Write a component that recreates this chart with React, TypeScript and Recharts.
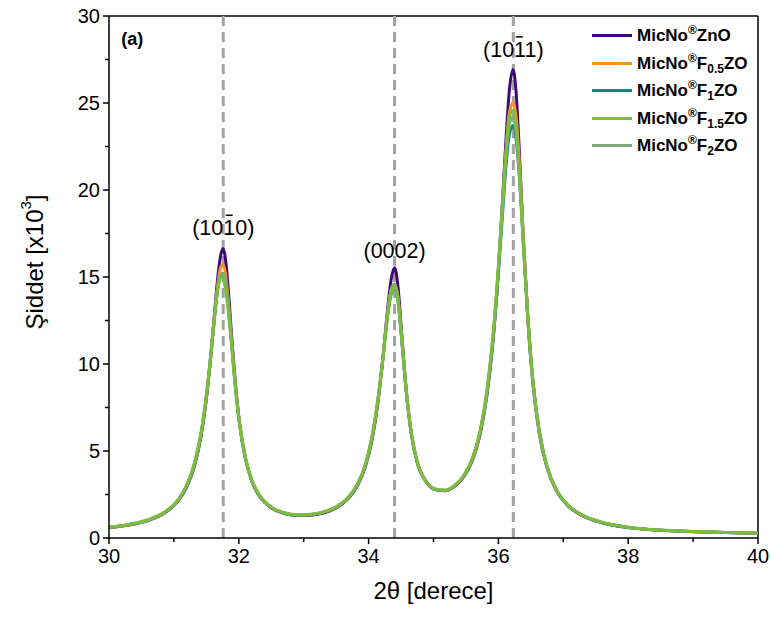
import React from 'react';
import { LineChart, Line, XAxis, YAxis, ReferenceLine, ReferenceDot, Legend } from 'recharts';

const FONT = 'Arial, "Liberation Sans", Helvetica, sans-serif';

// 2θ positions (degrees)
const twoTheta = [
  30.0, 30.3, 30.6, 30.85, 31.05, 31.2, 31.32, 31.42, 31.5, 31.57,
  31.63, 31.68, 31.72, 31.755, 31.79, 31.83, 31.88, 31.94, 32.01, 32.1,
  32.2, 32.33, 32.5, 32.7, 32.9, 33.1, 33.3, 33.5, 33.68, 33.83,
  33.95, 34.05, 34.14, 34.22, 34.29, 34.35, 34.4, 34.45, 34.51, 34.58,
  34.66, 34.76, 34.88, 35.02, 35.18, 35.33, 35.47, 35.6, 35.72, 35.82,
  35.91, 35.99, 36.06, 36.12, 36.17, 36.225, 36.27, 36.32, 36.38, 36.45,
  36.53, 36.63, 36.75, 36.9, 37.08, 37.3, 37.6, 38.0, 38.5, 39.0,
  39.5, 40.0,
];

// intensity x10^3
const zno = [
  0.59, 0.74, 1.0, 1.42, 2.06, 2.95, 4.18, 5.89, 8.0, 10.54,
  13.11, 15.12, 16.22, 16.64, 16.16, 14.65, 12.1, 9.2, 6.65, 4.6,
  3.28, 2.34, 1.73, 1.41, 1.29, 1.31, 1.44, 1.73, 2.24, 3.01,
  4.1, 5.58, 7.68, 10.32, 13.03, 14.92, 15.53, 14.55, 11.76, 8.51,
  5.97, 4.2, 3.26, 2.78, 2.71, 2.98, 3.54, 4.46, 6.0, 8.11,
  11.04, 14.84, 19.16, 23.12, 25.77, 26.92, 25.75, 22.42, 17.57, 12.75,
  8.94, 6.01, 4.03, 2.68, 1.82, 1.27, 0.88, 0.6, 0.44, 0.36,
  0.31, 0.28,
];
const f05 = [
  0.6, 0.75, 1.02, 1.44, 2.08, 3.0, 4.25, 5.95, 8.05, 10.5,
  12.9, 14.7, 15.55, 15.7, 15.3, 14.0, 11.8, 9.1, 6.7, 4.65,
  3.3, 2.37, 1.76, 1.44, 1.32, 1.34, 1.47, 1.76, 2.27, 3.05,
  4.15, 5.65, 7.75, 10.3, 12.8, 14.3, 14.6, 13.9, 11.5, 8.5,
  6.0, 4.25, 3.3, 2.82, 2.74, 3.0, 3.57, 4.5, 6.05, 8.2,
  11.2, 14.9, 18.9, 22.4, 24.5, 25.0, 24.3, 21.8, 17.6, 13.0,
  9.1, 6.1, 4.08, 2.72, 1.85, 1.29, 0.9, 0.62, 0.45, 0.37,
  0.31, 0.28,
];
const f1 = [
  0.6, 0.76, 1.02, 1.45, 2.09, 3.0, 4.3, 6.0, 8.1, 10.5,
  12.8, 14.4, 15.1, 15.2, 14.8, 13.6, 11.6, 9.0, 6.6, 4.6,
  3.3, 2.36, 1.75, 1.43, 1.32, 1.34, 1.47, 1.77, 2.28, 3.06,
  4.15, 5.7, 7.8, 10.3, 12.7, 14.05, 14.4, 13.7, 11.4, 8.4,
  5.95, 4.2, 3.28, 2.8, 2.73, 3.0, 3.58, 4.52, 6.1, 8.25,
  11.2, 14.7, 18.4, 21.5, 23.2, 23.7, 23.0, 20.9, 17.2, 12.9,
  9.1, 6.15, 4.1, 2.72, 1.85, 1.29, 0.89, 0.61, 0.45, 0.37,
  0.31, 0.28,
];
const f15 = [
  0.62, 0.78, 1.05, 1.48, 2.13, 3.05, 4.35, 6.1, 8.2, 10.6,
  12.9, 14.4, 15.0, 14.9, 14.4, 13.3, 11.4, 8.9, 6.6, 4.65,
  3.35, 2.4, 1.78, 1.45, 1.33, 1.36, 1.5, 1.8, 2.32, 3.12,
  4.25, 5.8, 7.9, 10.3, 12.7, 14.1, 14.45, 13.7, 11.4, 8.4,
  5.95, 4.2, 3.3, 2.82, 2.75, 3.03, 3.62, 4.6, 6.2, 8.4,
  11.4, 15.1, 19.0, 22.3, 24.2, 24.6, 23.6, 21.2, 17.2, 12.8,
  9.0, 6.1, 4.1, 2.73, 1.86, 1.3, 0.9, 0.62, 0.46, 0.38,
  0.32, 0.29,
];
const f2 = [
  0.61, 0.77, 1.03, 1.46, 2.1, 3.05, 4.3, 6.05, 8.15, 10.6,
  12.9, 14.5, 15.15, 15.2, 14.8, 13.6, 11.6, 9.0, 6.6, 4.6,
  3.3, 2.37, 1.76, 1.44, 1.32, 1.35, 1.48, 1.78, 2.3, 3.08,
  4.2, 5.75, 7.85, 10.35, 12.85, 14.3, 14.6, 13.85, 11.5, 8.45,
  5.95, 4.2, 3.29, 2.81, 2.74, 3.02, 3.6, 4.55, 6.15, 8.3,
  11.3, 14.95, 18.8, 22.0, 23.8, 24.2, 23.4, 21.2, 17.3, 12.9,
  9.05, 6.1, 4.08, 2.72, 1.85, 1.29, 0.9, 0.61, 0.45, 0.37,
  0.31, 0.28,
];

const seriesKeys = ['zno', 'f05', 'f1', 'f15', 'f2'];
const seriesColors = ['#3d0a78', '#f7931e', '#11877f', '#7cbc3e', '#82a982'];
// [main, subscript, tail] after "MicNo®"
const seriesNames = [
  ['ZnO', '', ''],
  ['F', '0.5', 'ZO'],
  ['F', '1', 'ZO'],
  ['F', '1.5', 'ZO'],
  ['F', '2', 'ZO'],
];
// bright green F1.5 ends up on top, as in the figure
const drawOrder = [0, 1, 2, 4, 3];

const xTicks = [30, 31, 32, 33, 34, 35, 36, 37, 38, 39, 40];
const yTicks = [0, 2.5, 5, 7.5, 10, 12.5, 15, 17.5, 20, 22.5, 25, 27.5, 30];

const peakPositions = [31.76, 34.4, 36.23];
const peakLabels = [
  { x: 31.76, y: 17.4, pre: '(10', bar: '1', post: '0)' },
  { x: 34.4, y: 16.1, pre: '(0002)', bar: '', post: '' },
  { x: 36.23, y: 27.65, pre: '(10', bar: '1', post: '1)' },
];

const data = twoTheta.map((x, i) => ({
  x,
  zno: zno[i],
  f05: f05[i],
  f1: f1[i],
  f15: f15[i],
  f2: f2[i],
}));

const XTick = ({ x, y, payload }: any) => {
  const major = payload.value % 2 === 0;
  return (
    <g>
      <line x1={x} x2={x} y1={y} y2={y + (major ? 6 : 4)} stroke="#000" strokeWidth={1.5} />
      {major && (
        <text x={x} y={y + 25} textAnchor="middle" fontSize={20} fontFamily={FONT} fill="#000">
          {payload.value}
        </text>
      )}
    </g>
  );
};

const YTick = ({ x, y, payload }: any) => {
  const major = payload.value % 5 === 0;
  return (
    <g>
      <line x1={x} x2={x - (major ? 6 : 4)} y1={y} y2={y} stroke="#000" strokeWidth={1.5} />
      {major && (
        <text x={x - 9} y={y + 7} textAnchor="end" fontSize={20} fontFamily={FONT} fill="#000">
          {payload.value}
        </text>
      )}
    </g>
  );
};

const XTitle = ({ viewBox }: any) => (
  <text
    x={viewBox.x + viewBox.width / 2}
    y={599}
    textAnchor="middle"
    fontSize={24}
    fontFamily={FONT}
    fill="#000"
  >
    2θ [derece]
  </text>
);

const YTitle = ({ viewBox }: any) => {
  const cy = viewBox.y + viewBox.height / 2 - 15;
  return (
    <text
      transform={`translate(34,${cy}) rotate(-90)`}
      textAnchor="middle"
      dominantBaseline="central"
      fontSize={24}
      fontFamily={FONT}
      fill="#000"
    >
      Şiddet [x10<tspan dy={-9} fontSize={15}>3</tspan>
      <tspan dy={9}>]</tspan>
    </text>
  );
};

const PeakText = ({ viewBox, lbl }: any) => {
  const fs = 21.5;
  const cx = viewBox.x;
  const by = viewBox.y;
  const barX = cx + 0.278 * fs;
  return (
    <g>
      <text x={cx} y={by} textAnchor="middle" fontSize={fs} fontFamily={FONT} fill="#000">
        {lbl.pre + lbl.bar + lbl.post}
      </text>
      {lbl.bar && <line x1={barX - 3.5} x2={barX + 3.5} y1={by - 20} y2={by - 20} stroke="#000" strokeWidth={1.5} />}
    </g>
  );
};

const PanelTag = ({ viewBox }: any) => (
  <text x={viewBox.x} y={viewBox.y} fontSize={18} fontWeight="bold" fontFamily={FONT} fill="#000">
    (a)
  </text>
);

const LegendBox = () => (
  <div style={{ fontFamily: FONT, fontWeight: 700, fontSize: 17, color: '#000', lineHeight: 1 }}>
    {seriesKeys.map((k, i) => {
      const name = seriesNames[i];
      return (
        <div key={k} style={{ display: 'flex', alignItems: 'center', height: 27.5 }}>
          <span style={{ display: 'inline-block', width: 40, height: 3, background: seriesColors[i], marginRight: 5 }} />
          <span style={{ whiteSpace: 'nowrap' }}>
            MicNo
            <span style={{ fontSize: 12, position: 'relative', top: -7 }}>®</span>
            {name[0]}
            {name[1] && <span style={{ fontSize: 12, position: 'relative', top: 4 }}>{name[1]}</span>}
            {name[2]}
          </span>
        </div>
      );
    })}
  </div>
);

export default function App() {
  return (
    <div>
      <style>{'body{margin:0;background:#fff}'}</style>
      <LineChart width={771} height={617} data={data} margin={{ top: 16, right: 13, bottom: 0, left: 0 }}>
        <XAxis
          dataKey="x"
          type="number"
          domain={[30, 40]}
          ticks={xTicks}
          interval={0}
          tickLine={false}
          tickSize={0}
          tickMargin={0}
          height={79}
          axisLine={{ stroke: '#000', strokeWidth: 1.5 }}
          tick={<XTick />}
          label={<XTitle />}
        />
        <YAxis
          type="number"
          domain={[0, 30]}
          ticks={yTicks}
          interval={0}
          tickLine={false}
          tickSize={0}
          tickMargin={0}
          width={109}
          axisLine={{ stroke: '#000', strokeWidth: 1.5 }}
          tick={<YTick />}
          label={<YTitle />}
        />
        <ReferenceLine y={30} stroke="#000" strokeWidth={1.5} />
        <ReferenceLine x={40} stroke="#000" strokeWidth={1.5} />
        {peakPositions.map((p) => (
          <ReferenceLine key={p} x={p} stroke="#a3a3a3" strokeWidth={3} strokeDasharray="10 6" />
        ))}
        {drawOrder.map((i) => (
          <Line
            key={seriesKeys[i]}
            type="monotone"
            dataKey={seriesKeys[i]}
            stroke={seriesColors[i]}
            strokeWidth={3}
            dot={false}
            isAnimationActive={false}
          />
        ))}
        {peakLabels.map((l) => (
          <ReferenceDot key={l.x} x={l.x} y={l.y} r={0} fill="none" stroke="none" label={<PeakText lbl={l} />} />
        ))}
        <ReferenceDot x={30.19} y={28.33} r={0} fill="none" stroke="none" label={<PanelTag />} />
        <Legend
          layout="vertical"
          align="center"
          verticalAlign="middle"
          content={<LegendBox />}
          wrapperStyle={{ top: 22, left: 592, width: 175 }}
        />
      </LineChart>
    </div>
  );
}
